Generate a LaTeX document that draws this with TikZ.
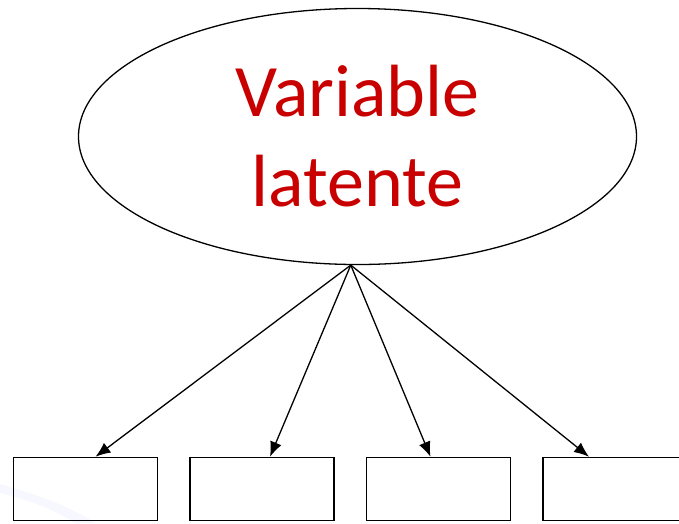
\documentclass[tikz,border=0pt]{standalone}
\usepackage{fontspec}
\setmainfont{Carlito}
\usetikzlibrary{arrows.meta,shapes,positioning}
\definecolor{latred}{HTML}{C80000}
\tikzset{
  latent/.style   = {draw, ellipse, line width=1.3pt, minimum width=558pt, minimum height=256pt,
                     inner sep=0pt, align=center, text=latred, font=\fontsize{74}{90}\selectfont},
  indicator/.style = {draw, rectangle, line width=1.5pt, minimum width=144pt, minimum height=63pt,
                     inner sep=0pt},
  loading/.style  = {->, line width=1.3pt}
}

\begin{document}
\begin{tikzpicture}[x=1pt, y=-1pt, node distance=31pt,
  >={Latex[length=15pt,width=12pt]}]
\useasboundingbox (0,0) rectangle (679,523);

% faint slide background
\fill[blue!3] (0,484) .. controls (35,494) and (70,506) .. (95,523) -- (75,523)
  .. controls (55,510) and (30,500) .. (0,493) -- cycle;

% latent variable
\node[latent] (lat) at (357.5,136.5) {Variable\\latente};

% observed indicators
\node[indicator] (b1) at (85.5,489) {};
\node[indicator, right=of b1] (b2) {};
\node[indicator, right=of b2] (b3) {};
\node[indicator, right=of b3] (b4) {};

% loadings
\draw[loading] (lat.-93) -- ([xshift=10pt]b1.north);
\draw[loading] (lat.-93) -- ([xshift=8pt]b2.north);
\draw[loading] (lat.-93) -- ([xshift=-8pt]b3.north);
\draw[loading] (lat.-93) -- ([xshift=-26pt]b4.north);
\end{tikzpicture}
\end{document}
